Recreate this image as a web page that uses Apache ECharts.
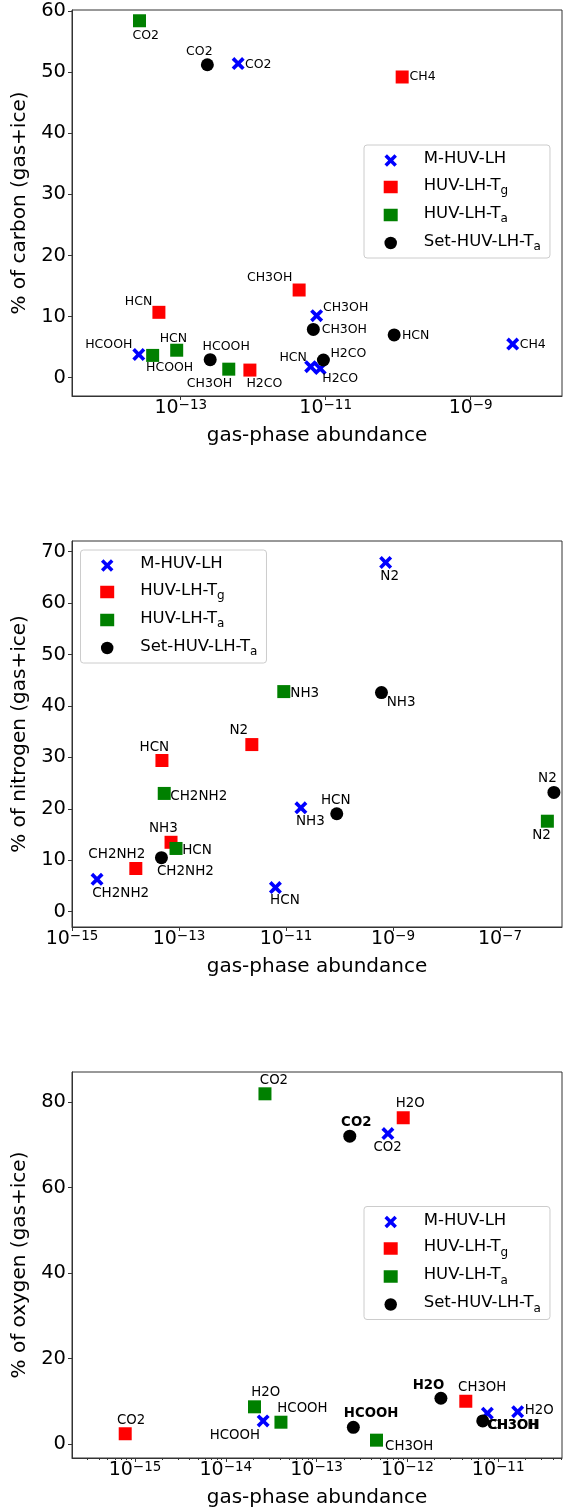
<!DOCTYPE html>
<html>
<head>
<meta charset="utf-8">
<script src="https://cdn.jsdelivr.net/npm/echarts@6/dist/echarts.min.js"></script>
<style>
html,body{margin:0;padding:0;background:#fff;}
#chart{width:569px;height:1512px;}
</style>
</head>
<body>
<div id="chart"></div>
<script>
// ---------------- DATA ----------------
const seriesNames = ['M-HUV-LH', 'HUV-LH-Tg', 'HUV-LH-Ta', 'Set-HUV-LH-Ta'];

// Panel 1: % of carbon
const cM_names = ['CO2', 'CH4', 'CH3OH', 'HCOOH', 'HCN', 'H2CO'];
const cM_x = [6.2e-13, 3.8e-9, 7.5e-12, 2.64e-14, 6.2e-12, 8.4e-12];
const cM_y = [51.4, 5.5, 10.15, 3.8, 1.8, 1.5];
const cTg_names = ['CH4', 'CH3OH', 'HCN', 'H2CO'];
const cTg_x = [1.135e-10, 4.3e-12, 5.0e-14, 9.0e-13];
const cTg_y = [49.2, 14.35, 10.7, 1.25];
const cTa_names = ['CO2', 'HCOOH', 'HCN', 'CH3OH'];
const cTa_x = [2.7e-14, 4.1e-14, 8.8e-14, 4.6e-13];
const cTa_y = [58.4, 3.65, 4.5, 1.4];
const cSet_names = ['CO2', 'HCOOH', 'CH3OH', 'HCN', 'H2CO'];
const cSet_x = [2.33e-13, 2.55e-13, 6.75e-12, 8.8e-11, 9.3e-12];
const cSet_y = [51.2, 2.95, 7.9, 7.0, 2.9];

// Panel 2: % of nitrogen
const nM_names = ['N2', 'NH3', 'HCN', 'CH2NH2'];
const nM_x = [7.3e-10, 1.9e-11, 6.35e-12, 2.94e-15];
const nM_y = [67.9, 20.2, 4.7, 6.3];
const nTg_names = ['N2', 'HCN', 'NH3', 'CH2NH2'];
const nTg_x = [2.3e-12, 4.8e-14, 7.1e-14, 1.56e-14];
const nTg_y = [32.5, 29.4, 13.5, 8.4];
const nTa_names = ['NH3', 'CH2NH2', 'HCN', 'N2'];
const nTa_x = [9.1e-12, 5.3e-14, 8.8e-14, 7.7e-7];
const nTa_y = [42.8, 23.0, 12.3, 17.6];
const nSet_names = ['NH3', 'HCN', 'CH2NH2', 'N2'];
const nSet_x = [6.1e-10, 8.9e-11, 4.7e-14, 1.02e-6];
const nSet_y = [42.6, 19.05, 10.5, 23.2];

// Panel 3: % of oxygen
const oM_names = ['CO2', 'HCOOH', 'CH3OH', 'H2O'];
const oM_x = [6.1e-13, 2.58e-14, 7.6e-12, 1.64e-11];
const oM_y = [72.6, 5.4, 7.2, 7.55];
const oTg_names = ['H2O', 'CO2', 'CH3OH'];
const oTg_x = [9.0e-13, 7.8e-16, 4.4e-12];
const oTg_y = [76.3, 2.4, 10.0];
const oTa_names = ['CO2', 'H2O', 'HCOOH', 'CH3OH'];
const oTa_x = [2.7e-14, 2.07e-14, 4.05e-14, 4.57e-13];
const oTa_y = [81.9, 8.7, 5.1, 0.9];
const oSet_names = ['CO2', 'HCOOH', 'H2O', 'CH3OH'];
const oSet_x = [2.32e-13, 2.54e-13, 2.34e-12, 6.76e-12];
const oSet_y = [72.0, 3.9, 10.7, 5.4];

// Tick labels
const cXTicks = [1e-13, 1e-11, 1e-9];
const nXTicks = [1e-15, 1e-13, 1e-11, 1e-9, 1e-7];
const oXTicks = [1e-15, 1e-14, 1e-13, 1e-12, 1e-11];
const cYTicks = [0, 10, 20, 30, 40, 50, 60];
const nYTicks = [0, 10, 20, 30, 40, 50, 60, 70];
const oYTicks = [0, 20, 40, 60, 80];

// ---------------- LABEL PLACEMENT (px offsets of text centre from marker) ----------------
const cM_lab = [[20, 1], [20, 1], [29, -8], [-30, -10], [-17.5, -9.3], [20, 10]];
const cTg_lab = [[20.4, 0], [-29.5, -12.3], [-20.4, -10.7], [14.5, 13.3]];
const cTa_lab = [[6.2, 14.7], [17, 12.3], [-3.3, -11.7], [-19.3, 14.3]];
const cSet_lab = [[-8, -13.3], [16, -13], [31, 0.7], [21.5, 1.3], [25, -6]];
const nM_lab = [[4, 13.7], [9.5, 14], [9.5, 13.3], [23.6, 14]];
const nTg_lab = [[-13, -14], [-7.6, -13.3], [-7.6, -13.3], [-19, -13.7]];
const nTa_lab = [[21, 2.3], [34.5, 2.7], [21, 2], [-5.8, 14]];
const nSet_lab = [[19.6, 10.3], [-1, -13.7], [24, 14], [-6.5, -14]];
const oM_lab = [[-0.4, 14.3], [-28.4, 15], [25.8, 12.3], [21.5, -1]];
const oTg_lab = [[7, -14], [5.8, -13.7], [16.4, -14]];
const oTa_lab = [[9, -13.3], [11.3, -14], [21.5, -13.3], [32.7, 6.7]];
const oSet_lab = [[6.5, -13.7], [17.8, -14], [-12.4, -13], [30.5, 4.7]];

// ---------------- STYLE ----------------
const FONT = 'DejaVu Sans';
const XPATH = 'path://M0,2L2,0L5,3L8,0L10,2L7,5L10,8L8,10L5,7L2,10L0,8L3,5Z';
const STY = {
  'M-HUV-LH': {symbol: XPATH, size: 13, color: '#0000ff'},
  'HUV-LH-Tg': {symbol: 'rect', size: 13, color: '#ff0000'},
  'HUV-LH-Ta': {symbol: 'rect', size: 13, color: '#008000'},
  'Set-HUV-LH-Ta': {symbol: 'circle', size: 13, color: '#000000'}
};
const GRID_L = 72, GRID_W = 490, GRID_H = 386;
const gridTops = [10, 541, 1072];
const AXIS_COLOR = '#333';

function sup(v) {
  const e = Math.round(Math.log10(v));
  return '{b|10}{e|' + (e < 0 ? '\u2212' + Math.abs(e) : e) + '}';
}

function xAxisCfg(grid, lo, hi, ticks) {
  return {
    type: 'log', logBase: 10, gridIndex: grid, position: 'bottom',
    min: Math.pow(10, lo), max: Math.pow(10, hi),
    name: 'gas-phase abundance', nameLocation: 'middle', nameGap: 30,
    nameTextStyle: {fontFamily: FONT, fontSize: 20, color: '#000'},
    axisLine: {show: true, onZero: false, lineStyle: {color: AXIS_COLOR, width: 1}},
    axisTick: {show: true, length: 4, customValues: ticks, lineStyle: {color: AXIS_COLOR}},
    axisLabel: {
      show: true, customValues: ticks, margin: 2.5, formatter: sup,
      fontFamily: FONT, color: '#000',
      rich: {
        b: {fontFamily: FONT, fontSize: 19, lineHeight: 19, padding: [4, 0, 0, 0], verticalAlign: 'bottom', color: '#000'},
        e: {fontFamily: FONT, fontSize: 13.5, lineHeight: 13, verticalAlign: 'top', color: '#000'}
      }
    },
    splitLine: {show: false}, minorTick: {show: false}, minorSplitLine: {show: false}
  };
}

function yAxisCfg(grid, lo, hi, ticks, title) {
  return {
    type: 'value', gridIndex: grid, min: lo, max: hi, position: 'left',
    name: title, nameLocation: 'middle', nameGap: 36,
    nameTextStyle: {fontFamily: FONT, fontSize: 20, color: '#000'},
    axisLine: {show: true, onZero: false, lineStyle: {color: AXIS_COLOR, width: 1}},
    axisTick: {show: true, length: 4, customValues: ticks, lineStyle: {color: AXIS_COLOR}},
    axisLabel: {show: true, customValues: ticks, margin: 6, fontFamily: FONT, fontSize: 19.5, color: '#000'},
    splitLine: {show: false}
  };
}

// minor ticks for the oxygen panel (2..9 x 10^n)
const oMinor = [];
for (let e = -16; e <= -10; e++) {
  for (let m = 2; m <= 9; m++) {
    const v = m * Math.pow(10, e);
    if (Math.log10(v) > -15.69 && Math.log10(v) < -10.297) oMinor.push(v);
  }
}

function mk(seriesName, axisIdx, names, xs, ys, offs, fontSize, bold) {
  const s = STY[seriesName];
  return {
    type: 'scatter', name: seriesName,
    xAxisIndex: axisIdx, yAxisIndex: axisIdx,
    symbol: s.symbol, symbolSize: s.size, symbolKeepAspect: true,
    itemStyle: {color: s.color, opacity: 1},
    emphasis: {disabled: true},
    label: {
      show: true, position: 'inside', formatter: p => p.name,
      color: '#000', fontFamily: FONT, fontSize: fontSize,
      fontWeight: bold ? 'bold' : 'normal',
      align: 'center', verticalAlign: 'middle'
    },
    data: names.map((n, i) => ({name: n, value: [xs[i], ys[i]], label: {offset: offs[i]}}))
  };
}

function legendCfg(left, top) {
  return {
    orient: 'vertical', left: left, top: top,
    data: [
      {name: 'M-HUV-LH', icon: XPATH},
      {name: 'HUV-LH-Tg', icon: 'rect'},
      {name: 'HUV-LH-Ta', icon: 'rect'},
      {name: 'Set-HUV-LH-Ta', icon: 'circle'}
    ],
    itemWidth: 14, itemHeight: 12.5, itemGap: 8,
    padding: [5.5, 9, 5, 19.7],
    backgroundColor: 'rgba(255,255,255,0.8)',
    borderColor: '#cccccc', borderWidth: 1, borderRadius: 3,
    selectedMode: false,
    formatter: function (name) {
      const m = name.match(/^(.*-T)([ga])$/);
      if (m) return '{g|}{t|' + m[1] + '}{s|' + m[2] + '}';
      return '{g|}{t|' + name + '}';
    },
    textStyle: {
      fontFamily: FONT, fontSize: 16.5, color: '#000',
      rich: {
        g: {width: 21, lineHeight: 20},
        t: {fontFamily: FONT, fontSize: 16.5, lineHeight: 20, verticalAlign: 'top', color: '#000'},
        s: {fontFamily: FONT, fontSize: 12, lineHeight: 12, padding: [8, 0, 0, 0], verticalAlign: 'top', color: '#000'}
      }
    }
  };
}

const option = {
  animation: false,
  backgroundColor: '#fff',
  grid: gridTops.map(t => ({left: GRID_L, top: t, width: GRID_W, height: GRID_H, show: true, borderColor: AXIS_COLOR, borderWidth: 1, backgroundColor: 'transparent'})),
  xAxis: [
    xAxisCfg(0, -14.5, -7.74, cXTicks),
    xAxisCfg(1, -15, -5.84, nXTicks),
    xAxisCfg(2, -15.694, -10.297, oXTicks),
    {
      type: 'log', logBase: 10, gridIndex: 2, position: 'bottom', min: Math.pow(10, -15.694), max: Math.pow(10, -10.297),
      axisLine: {show: false, onZero: false}, axisLabel: {show: false}, splitLine: {show: false},
      axisTick: {show: true, length: 2, customValues: oMinor, lineStyle: {color: AXIS_COLOR}}
    }
  ],
  yAxis: [
    yAxisCfg(0, -2.99, 60.16, cYTicks, '% of carbon (gas+ice)'),
    yAxisCfg(1, -2.97, 72.08, nYTicks, '% of nitrogen (gas+ice)'),
    yAxisCfg(2, -3.27, 87.0, oYTicks, '% of oxygen (gas+ice)'),
    {type: 'value', gridIndex: 2, min: -3.27, max: 87.0, show: false}
  ],
  legend: [legendCfg(364, 145), legendCfg(80.5, 550), legendCfg(364, 1206.5)],
  series: [
    mk('M-HUV-LH', 0, cM_names, cM_x, cM_y, cM_lab, 12.5),
    mk('HUV-LH-Tg', 0, cTg_names, cTg_x, cTg_y, cTg_lab, 12.5),
    mk('HUV-LH-Ta', 0, cTa_names, cTa_x, cTa_y, cTa_lab, 12.5),
    mk('Set-HUV-LH-Ta', 0, cSet_names, cSet_x, cSet_y, cSet_lab, 12.5),
    mk('M-HUV-LH', 1, nM_names, nM_x, nM_y, nM_lab, 13.5),
    mk('HUV-LH-Tg', 1, nTg_names, nTg_x, nTg_y, nTg_lab, 13.5),
    mk('HUV-LH-Ta', 1, nTa_names, nTa_x, nTa_y, nTa_lab, 13.5),
    mk('Set-HUV-LH-Ta', 1, nSet_names, nSet_x, nSet_y, nSet_lab, 13.5),
    mk('M-HUV-LH', 2, oM_names, oM_x, oM_y, oM_lab, 13.3),
    mk('HUV-LH-Tg', 2, oTg_names, oTg_x, oTg_y, oTg_lab, 13.3),
    mk('HUV-LH-Ta', 2, oTa_names, oTa_x, oTa_y, oTa_lab, 13.3),
    mk('Set-HUV-LH-Ta', 2, oSet_names, oSet_x, oSet_y, oSet_lab, 13.3, true)
  ]
};

const chart = echarts.init(document.getElementById('chart'), null, {renderer: 'canvas'});
chart.setOption(option);
</script>
</body>
</html>
